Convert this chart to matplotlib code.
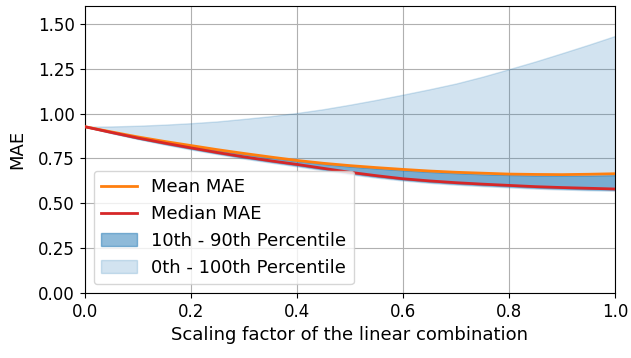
import matplotlib
matplotlib.use("Agg")
import matplotlib.pyplot as plt
import numpy as np

scale = [0.0, 0.05, 0.1, 0.15, 0.2, 0.25, 0.3, 0.35, 0.4, 0.45, 0.5,
         0.55, 0.6, 0.65, 0.7, 0.75, 0.8, 0.85, 0.9, 0.95, 1.0]
mean_mae = [0.927, 0.898, 0.870, 0.845, 0.822, 0.799, 0.778, 0.758, 0.739, 0.723, 0.710,
            0.699, 0.689, 0.680, 0.673, 0.668, 0.663, 0.661, 0.660, 0.662, 0.665]
median_mae = [0.927, 0.895, 0.864, 0.836, 0.809, 0.783, 0.759, 0.737, 0.717, 0.695, 0.673,
              0.654, 0.637, 0.625, 0.615, 0.607, 0.600, 0.593, 0.588, 0.584, 0.580]
p90 = [0.927, 0.897, 0.868, 0.843, 0.819, 0.796, 0.775, 0.754, 0.735, 0.719, 0.705,
       0.694, 0.684, 0.675, 0.668, 0.662, 0.658, 0.655, 0.654, 0.655, 0.657]
p10 = [0.927, 0.893, 0.861, 0.832, 0.805, 0.779, 0.755, 0.733, 0.712, 0.690, 0.668,
       0.649, 0.633, 0.620, 0.610, 0.602, 0.595, 0.588, 0.583, 0.579, 0.576]
p100 = [0.927, 0.928, 0.932, 0.938, 0.946, 0.956, 0.970, 0.985, 1.003, 1.024, 1.049,
        1.076, 1.105, 1.135, 1.167, 1.205, 1.247, 1.290, 1.336, 1.383, 1.432]
p0 = [0.927, 0.891, 0.858, 0.828, 0.800, 0.774, 0.749, 0.727, 0.706, 0.684, 0.662,
      0.643, 0.627, 0.614, 0.604, 0.596, 0.589, 0.582, 0.577, 0.573, 0.570]

plt.rcParams['font.size'] = 12
fig = plt.figure(figsize=(6.31, 3.58), dpi=100)
ax = fig.add_axes([0.134, 0.181, 0.841, 0.803])

ax.fill_between(scale, p0, p100, color='C0', alpha=0.2, label='0th - 100th Percentile', zorder=1)
ax.fill_between(scale, p10, p90, color='C0', alpha=0.5, label='10th - 90th Percentile', zorder=2)
ax.plot(scale, mean_mae, color='C1', lw=2, label='Mean MAE', zorder=3)
ax.plot(scale, median_mae, color='C3', lw=2, label='Median MAE', zorder=3)

ax.set_xlim(0, 1)
ax.set_ylim(0, 1.6)
ax.set_yticks([0.0, 0.25, 0.5, 0.75, 1.0, 1.25, 1.5])
ax.tick_params(labelsize=12)
ax.grid(True)
ax.set_axisbelow(True)
ax.set_xlabel('Scaling factor of the linear combination', fontsize=13)
ax.set_ylabel('MAE', fontsize=13, labelpad=8)

h, l = ax.get_legend_handles_labels()
order = [2, 3, 1, 0]
ax.legend([h[i] for i in order], [l[i] for i in order], loc='lower left',
          fontsize=13, labelspacing=0.5)

fig.savefig('out.png', dpi=100)
